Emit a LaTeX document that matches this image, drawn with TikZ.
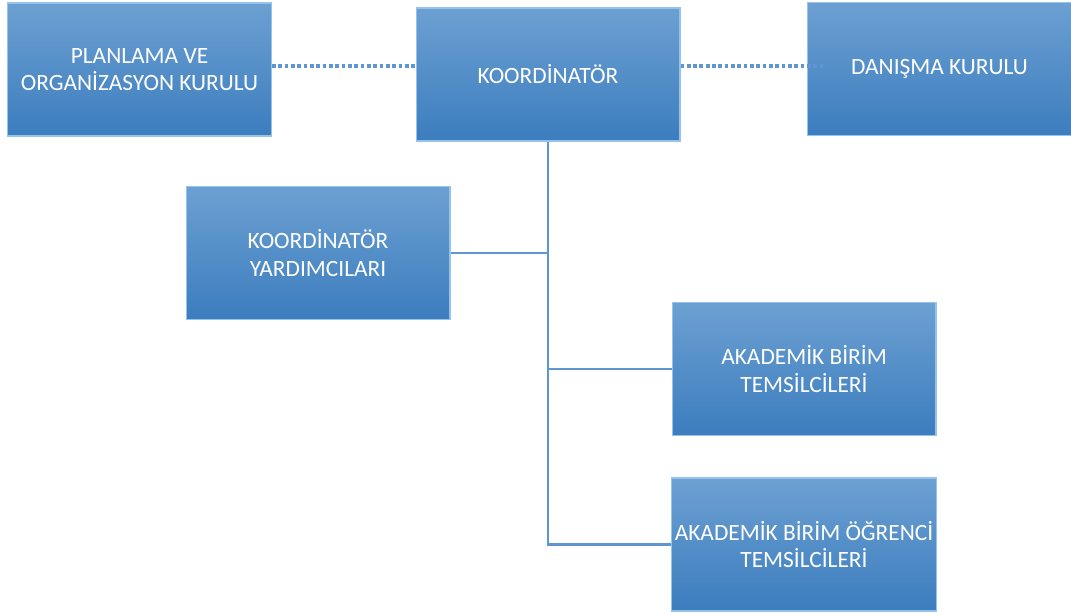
\documentclass[tikz,border=0pt]{standalone}
\usepackage{fontspec}
\setmainfont{Carlito}
\usetikzlibrary{positioning}
\definecolor{kutuust}{RGB}{108,160,210}
\definecolor{kutualt}{RGB}{60,125,190}
\definecolor{kenar}{RGB}{150,195,235}
\definecolor{cizgi}{RGB}{95,150,210}
\tikzset{
	kutu/.style={draw=kenar,line width=0.6pt,top color=kutuust,bottom color=kutualt,
		minimum width=5.28cm,minimum height=2.66cm,align=center,text=white,
		font=\fontsize{13.3}{15.5}\selectfont,inner sep=2pt},
	baglanti/.style={cizgi,line width=1.4pt},
	noktali/.style={cizgi,line width=2.3pt,dash pattern=on 2.1pt off 1.5pt}
}
\begin{document}
\begin{tikzpicture}[x=0.02cm,y=-0.02cm]%ORGANIZASYON SEMASI
		\useasboundingbox (0,0) rectangle (1071,615);
		\node[kutu] (plan) at (139.5,69.5) {PLANLAMA VE\\ORGANİZASYON KURULU};
		\node[kutu] (koord) at (548,74.5) {KOORDİNATÖR};
		\node[kutu] (danis) at (939.5,69) {DANIŞMA KURULU};
		\node[kutu] (yard) at (318,253) {KOORDİNATÖR\\YARDIMCILARI};
		\node[kutu] (akad) at (804,369) {AKADEMİK BİRİM\\TEMSİLCİLERİ};
		\node[kutu] (ogr) at (804,544.5) {AKADEMİK BİRİM ÖĞRENCİ\\TEMSİLCİLERİ};
		%kurullar
		\draw[noktali] (plan.east |- 0,66) -- (koord.west |- 0,66);
		\draw[noktali] (koord.east |- 0,66) -- (825,66);
		%alt birimler
		\draw[baglanti] (koord.south) |- (ogr.west);
		\draw[baglanti] (yard.east) -- (yard.east -| koord.south);
		\draw[baglanti] (akad.west) -- (akad.west -| koord.south);
		\end{tikzpicture}
\end{document}
